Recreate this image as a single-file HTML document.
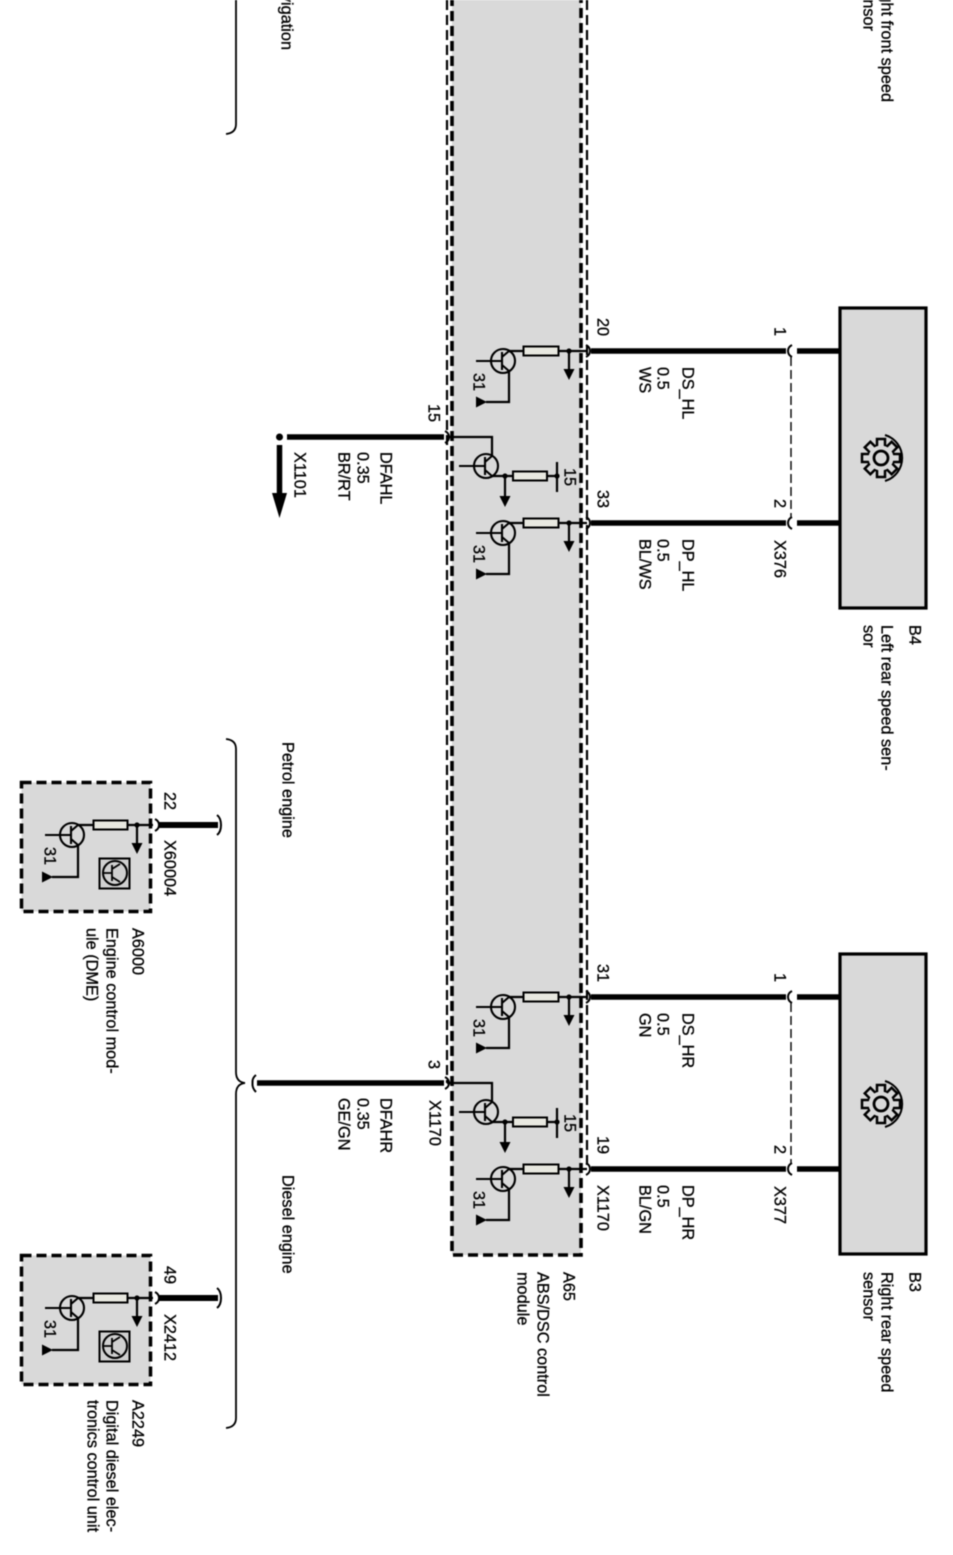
<!DOCTYPE html>
<html><head><meta charset="utf-8"><style>
html,body{margin:0;padding:0;background:#fff;width:953px;height:1555px;overflow:hidden}
svg{display:block;filter:blur(.55px)}
text{font-family:"Liberation Sans",sans-serif;font-size:16.3px;fill:#000;stroke:#000;stroke-width:.3px}
</style></head><body>
<svg width="953" height="1555" viewBox="0 0 953 1555" xmlns="http://www.w3.org/2000/svg">
<defs>
<g id="tr" fill="none" stroke="#000" stroke-width="2.1">
<circle cx="0" cy="0" r="12"/><path d="M-27 0H-1M-1-9V9M-1-4L6-10M-1 4L6 10"/>
</g>
<g id="amp" stroke="#000">
<use href="#tr" x="503" y="361"/>
<path d="M509 351H587M509 370V402H486M569 351V372" fill="none" stroke-width="2.200"/>
<rect x="523.500" y="346.500" width="35" height="9" fill="#e8e8e0" stroke-width="2"/>
<circle cx="569" cy="351" r="2.600" fill="#000" stroke="none"/>
<path d="M563.500 369H574.500L569 380Z" fill="#000" stroke="none"/>
<path d="M476 396.500V407.500L487 402Z" fill="#000" stroke="none"/>
</g>
<g id="mid" stroke="#000">
<use href="#tr" x="486" y="466"/>
<path d="M447 437H492V456M492 476H557M505 476V498M557 462V492" fill="none" stroke-width="2.200"/>
<rect x="513" y="471.500" width="34" height="9" fill="#e8e8e0" stroke-width="2"/>
<circle cx="505" cy="476" r="2.600" fill="#000" stroke="none"/>
<circle cx="557" cy="476" r="2.600" fill="#000" stroke="none"/>
<path d="M499.500 496H510.500L505 507Z" fill="#000" stroke="none"/>
</g>
<g id="sensor">
<rect x="840" y="308" width="86" height="300" fill="#d9d9d9" stroke="#000" stroke-width="3.200"/>
<path d="M591 351H786M797 351H839M591 523H786M797 523H839" fill="none" stroke="#000" stroke-width="5.500"/>
<path d="M792 345q-4 2-4 6q0 4 4 6M792 517q-4 2-4 6q0 4 4 6" fill="none" stroke="#000" stroke-width="2"/>
<path d="M791 357V517" fill="none" stroke="#000" stroke-width="1.400" stroke-dasharray="9 4"/>
<path d="M586 345q4 2 4 6q0 4-4 6M586 517q4 2 4 6q0 4-4 6" fill="none" stroke="#000" stroke-width="2"/>
<g transform="translate(881 458)" stroke="#000" fill="#d9d9d9" stroke-width="2.500">
<circle r="13"/>
<rect x="-4" y="-19" width="8" height="38"/>
<rect x="-4" y="-19" width="8" height="38" transform="rotate(45)"/>
<rect x="-4" y="-19" width="8" height="38" transform="rotate(90)"/>
<rect x="-4" y="-19" width="8" height="38" transform="rotate(135)"/>
<circle r="12.500" stroke="none"/>
<circle r="7" fill="none" stroke-width="2.800"/>
<path d="M4-23A24 24 0 0 1 4 23" fill="none" stroke-width="2"/>
</g>
</g>
<g id="ecu">
<rect x="21.500" y="782.500" width="129" height="129" fill="#d9d9d9" stroke="#000" stroke-width="3.500" stroke-dasharray="10 5"/>
<use href="#tr" x="72" y="835"/>
<path d="M78 825H153M78 844V877H52M137 825V845" fill="none" stroke="#000" stroke-width="2.200"/>
<rect x="93.500" y="820.500" width="34" height="9" fill="#e8e8e0" stroke="#000" stroke-width="2"/>
<circle cx="137" cy="825" r="2.600" fill="#000"/>
<path d="M131.500 843H142.500L137 854Z" fill="#000"/>
<path d="M42 871.500V882.500L53 877Z" fill="#000"/>
<rect x="99.500" y="858.500" width="30" height="30" fill="#d0d0d0" stroke="#000" stroke-width="2"/>
<circle cx="115" cy="873" r="12" fill="none" stroke="#000" stroke-width="2"/>
<path d="M103 873H112M112 865V881M112 869L120 864M112 877L120 882" fill="none" stroke="#000" stroke-width="1.800"/>
<path d="M158 825H218" fill="none" stroke="#000" stroke-width="6"/>
<path d="M155 819q4 2 4 6q0 4-4 6M217 815q4 3 4 10q0 7-4 10" fill="none" stroke="#000" stroke-width="2"/>
</g>
</defs>
<rect width="953" height="1555" fill="#fff"/>

<!-- module A65 -->
<path d="M447 0V1083M587 0V1170" stroke="#fff" stroke-width="7" fill="none"/>
<rect x="452" y="-10" width="129" height="1265" fill="#d9d9d9"/>
<path d="M447 0V1083M587 0V1170" stroke="#000" stroke-width="2.200" stroke-dasharray="10 5" fill="none"/>
<path d="M452 -4V1255H581V-4" fill="none" stroke="#000" stroke-width="3.600" stroke-dasharray="10 5"/>

<use href="#sensor"/>
<use href="#sensor" y="646"/>
<use href="#amp"/><use href="#amp" y="172"/><use href="#amp" y="646"/><use href="#amp" y="818"/>
<use href="#mid"/><use href="#mid" y="646"/>
<use href="#ecu"/><use href="#ecu" y="473"/>

<!-- outputs -->
<path d="M287 437H444" stroke="#000" stroke-width="5.500" fill="none"/>
<path d="M445 431q4 2 4 6q0 4-4 6M445 1077q4 2 4 6q0 4-4 6" fill="none" stroke="#000" stroke-width="2"/>
<circle cx="279.500" cy="437" r="3.500" fill="#000"/>
<path d="M279.500 445V497" stroke="#000" stroke-width="5.500" fill="none"/>
<path d="M272 493H287L279.500 518Z" fill="#000"/>
<path d="M257 1083H444" stroke="#000" stroke-width="5.500" fill="none"/>
<path d="M256 1075q-4 3-3.500 8q-.5 5 3.500 9" fill="none" stroke="#000" stroke-width="2"/>

<!-- braces -->
<path d="M236 0V124Q236 133 226 134" fill="none" stroke="#000" stroke-width="1.800"/>
<path d="M226 739Q236 740 236 749V1072Q236 1082 245 1083Q236 1084 236 1094V1418Q236 1427 226 1428" fill="none" stroke="#000" stroke-width="1.800"/>

<!-- text -->
<g transform="translate(1.5 0)">
<text transform="translate(280 50) rotate(90)" text-anchor="end">Navigation</text>
<text transform="translate(880 102) rotate(90)" text-anchor="end">Right front speed</text>
<text transform="translate(862 31) rotate(90)" text-anchor="end">sensor</text>
<text transform="translate(281 742) rotate(90)">Petrol engine</text>
<text transform="translate(281 1175) rotate(90)">Diesel engine</text>

<text transform="translate(596 318) rotate(90)">20</text>
<text transform="translate(773 327) rotate(90)">1</text>
<text transform="translate(773 499) rotate(90)">2</text>
<text transform="translate(773 540) rotate(90)">X376</text>
<text transform="translate(596 490) rotate(90)">33</text>
<text transform="translate(427 404) rotate(90)">15</text>
<text transform="translate(563 468) rotate(90)">15</text>
<text transform="translate(472 373) rotate(90)">31</text>
<text transform="translate(472 545) rotate(90)">31</text>
<text transform="translate(681 367) rotate(90)">DS_HL</text>
<text transform="translate(656 367) rotate(90)">0.5</text>
<text transform="translate(638 367) rotate(90)">WS</text>
<text transform="translate(681 539) rotate(90)">DP_HL</text>
<text transform="translate(656 539) rotate(90)">0.5</text>
<text transform="translate(638 539) rotate(90)">BL/WS</text>
<text transform="translate(379 452) rotate(90)">DFAHL</text>
<text transform="translate(356 452) rotate(90)">0.35</text>
<text transform="translate(337 452) rotate(90)">BR/RT</text>
<text transform="translate(293 452) rotate(90)">X1101</text>
<text transform="translate(908 625) rotate(90)">B4</text>
<text transform="translate(880 625) rotate(90)">Left rear speed sen-</text>
<text transform="translate(862 625) rotate(90)">sor</text>

<text transform="translate(596 964) rotate(90)">31</text>
<text transform="translate(773 973) rotate(90)">1</text>
<text transform="translate(773 1145) rotate(90)">2</text>
<text transform="translate(773 1186) rotate(90)">X377</text>
<text transform="translate(596 1136) rotate(90)">19</text>
<text transform="translate(596 1185) rotate(90)">X1170</text>
<text transform="translate(427 1060) rotate(90)">3</text>
<text transform="translate(428 1100) rotate(90)">X1170</text>
<text transform="translate(563 1114) rotate(90)">15</text>
<text transform="translate(472 1019) rotate(90)">31</text>
<text transform="translate(472 1191) rotate(90)">31</text>
<text transform="translate(681 1013) rotate(90)">DS_HR</text>
<text transform="translate(656 1013) rotate(90)">0.5</text>
<text transform="translate(638 1013) rotate(90)">GN</text>
<text transform="translate(681 1185) rotate(90)">DP_HR</text>
<text transform="translate(656 1185) rotate(90)">0.5</text>
<text transform="translate(638 1185) rotate(90)">BL/GN</text>
<text transform="translate(379 1098) rotate(90)">DFAHR</text>
<text transform="translate(356 1098) rotate(90)">0.35</text>
<text transform="translate(337 1098) rotate(90)">GE/GN</text>
<text transform="translate(562 1272) rotate(90)">A65</text>
<text transform="translate(536 1272) rotate(90)">ABS/DSC control</text>
<text transform="translate(516 1272) rotate(90)">module</text>
<text transform="translate(908 1272) rotate(90)">B3</text>
<text transform="translate(880 1272) rotate(90)">Right rear speed</text>
<text transform="translate(862 1272) rotate(90)">sensor</text>

<text transform="translate(163 792) rotate(90)">22</text>
<text transform="translate(163 840) rotate(90)">X60004</text>
<text transform="translate(43 847) rotate(90)">31</text>
<text transform="translate(131 928) rotate(90)">A6000</text>
<text transform="translate(105 928) rotate(90)">Engine control mod-</text>
<text transform="translate(85 928) rotate(90)">ule (DME)</text>
<text transform="translate(163 1266) rotate(90)">49</text>
<text transform="translate(163 1314) rotate(90)">X2412</text>
<text transform="translate(43 1320) rotate(90)">31</text>
<text transform="translate(131 1400) rotate(90)">A2249</text>
<text transform="translate(105 1400) rotate(90)">Digital diesel elec-</text>
<text transform="translate(86 1400) rotate(90)">tronics control unit</text>
</g>
</svg>
</body></html>
